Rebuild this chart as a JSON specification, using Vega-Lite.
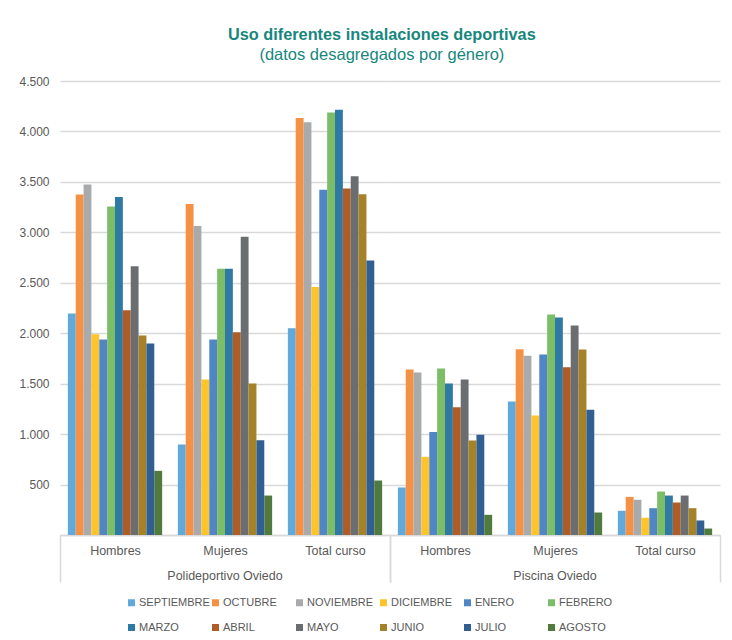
{
  "$schema": "https://vega.github.io/schema/vega-lite/v6.json",
  "padding": {"left": 18, "top": 27, "right": 10, "bottom": 4},
  "title": {
    "text": "Uso diferentes instalaciones deportivas",
    "subtitle": "(datos desagregados por género)",
    "anchor": "middle",
    "dx": 12,
    "font": "Liberation Sans",
    "fontSize": 16.3,
    "fontWeight": "bold",
    "color": "#17877d",
    "subtitleFont": "Liberation Sans",
    "subtitleFontSize": 16.5,
    "subtitleColor": "#17877d",
    "subtitlePadding": 3,
    "offset": 12
  },
  "data": {
    "values": [
      {"facility": "Polideportivo Oviedo", "cat": "Hombres", "month": "SEPTIEMBRE", "value": 2195},
      {"facility": "Polideportivo Oviedo", "cat": "Hombres", "month": "OCTUBRE", "value": 3374},
      {"facility": "Polideportivo Oviedo", "cat": "Hombres", "month": "NOVIEMBRE", "value": 3473},
      {"facility": "Polideportivo Oviedo", "cat": "Hombres", "month": "DICIEMBRE", "value": 1990},
      {"facility": "Polideportivo Oviedo", "cat": "Hombres", "month": "ENERO", "value": 1937},
      {"facility": "Polideportivo Oviedo", "cat": "Hombres", "month": "FEBRERO", "value": 3255},
      {"facility": "Polideportivo Oviedo", "cat": "Hombres", "month": "MARZO", "value": 3351},
      {"facility": "Polideportivo Oviedo", "cat": "Hombres", "month": "ABRIL", "value": 2228},
      {"facility": "Polideportivo Oviedo", "cat": "Hombres", "month": "MAYO", "value": 2664},
      {"facility": "Polideportivo Oviedo", "cat": "Hombres", "month": "JUNIO", "value": 1977},
      {"facility": "Polideportivo Oviedo", "cat": "Hombres", "month": "JULIO", "value": 1898},
      {"facility": "Polideportivo Oviedo", "cat": "Hombres", "month": "AGOSTO", "value": 636},
      {"facility": "Polideportivo Oviedo", "cat": "Mujeres", "month": "SEPTIEMBRE", "value": 897},
      {"facility": "Polideportivo Oviedo", "cat": "Mujeres", "month": "OCTUBRE", "value": 3282},
      {"facility": "Polideportivo Oviedo", "cat": "Mujeres", "month": "NOVIEMBRE", "value": 3064},
      {"facility": "Polideportivo Oviedo", "cat": "Mujeres", "month": "DICIEMBRE", "value": 1541},
      {"facility": "Polideportivo Oviedo", "cat": "Mujeres", "month": "ENERO", "value": 1937},
      {"facility": "Polideportivo Oviedo", "cat": "Mujeres", "month": "FEBRERO", "value": 2638},
      {"facility": "Polideportivo Oviedo", "cat": "Mujeres", "month": "MARZO", "value": 2638},
      {"facility": "Polideportivo Oviedo", "cat": "Mujeres", "month": "ABRIL", "value": 2010},
      {"facility": "Polideportivo Oviedo", "cat": "Mujeres", "month": "MAYO", "value": 2955},
      {"facility": "Polideportivo Oviedo", "cat": "Mujeres", "month": "JUNIO", "value": 1501},
      {"facility": "Polideportivo Oviedo", "cat": "Mujeres", "month": "JULIO", "value": 940},
      {"facility": "Polideportivo Oviedo", "cat": "Mujeres", "month": "AGOSTO", "value": 391},
      {"facility": "Polideportivo Oviedo", "cat": "Total curso", "month": "SEPTIEMBRE", "value": 2050},
      {"facility": "Polideportivo Oviedo", "cat": "Total curso", "month": "OCTUBRE", "value": 4134},
      {"facility": "Polideportivo Oviedo", "cat": "Total curso", "month": "NOVIEMBRE", "value": 4091},
      {"facility": "Polideportivo Oviedo", "cat": "Total curso", "month": "DICIEMBRE", "value": 2459},
      {"facility": "Polideportivo Oviedo", "cat": "Total curso", "month": "ENERO", "value": 3421},
      {"facility": "Polideportivo Oviedo", "cat": "Total curso", "month": "FEBRERO", "value": 4187},
      {"facility": "Polideportivo Oviedo", "cat": "Total curso", "month": "MARZO", "value": 4214},
      {"facility": "Polideportivo Oviedo", "cat": "Total curso", "month": "ABRIL", "value": 3434},
      {"facility": "Polideportivo Oviedo", "cat": "Total curso", "month": "MAYO", "value": 3556},
      {"facility": "Polideportivo Oviedo", "cat": "Total curso", "month": "JUNIO", "value": 3377},
      {"facility": "Polideportivo Oviedo", "cat": "Total curso", "month": "JULIO", "value": 2720},
      {"facility": "Polideportivo Oviedo", "cat": "Total curso", "month": "AGOSTO", "value": 540},
      {"facility": "Piscina Oviedo", "cat": "Hombres", "month": "SEPTIEMBRE", "value": 471},
      {"facility": "Piscina Oviedo", "cat": "Hombres", "month": "OCTUBRE", "value": 1640},
      {"facility": "Piscina Oviedo", "cat": "Hombres", "month": "NOVIEMBRE", "value": 1610},
      {"facility": "Piscina Oviedo", "cat": "Hombres", "month": "DICIEMBRE", "value": 775},
      {"facility": "Piscina Oviedo", "cat": "Hombres", "month": "ENERO", "value": 1022},
      {"facility": "Piscina Oviedo", "cat": "Hombres", "month": "FEBRERO", "value": 1650},
      {"facility": "Piscina Oviedo", "cat": "Hombres", "month": "MARZO", "value": 1501},
      {"facility": "Piscina Oviedo", "cat": "Hombres", "month": "ABRIL", "value": 1267},
      {"facility": "Piscina Oviedo", "cat": "Hombres", "month": "MAYO", "value": 1541},
      {"facility": "Piscina Oviedo", "cat": "Hombres", "month": "JUNIO", "value": 936},
      {"facility": "Piscina Oviedo", "cat": "Hombres", "month": "JULIO", "value": 993},
      {"facility": "Piscina Oviedo", "cat": "Hombres", "month": "AGOSTO", "value": 200},
      {"facility": "Piscina Oviedo", "cat": "Mujeres", "month": "SEPTIEMBRE", "value": 1323},
      {"facility": "Piscina Oviedo", "cat": "Mujeres", "month": "OCTUBRE", "value": 1840},
      {"facility": "Piscina Oviedo", "cat": "Mujeres", "month": "NOVIEMBRE", "value": 1777},
      {"facility": "Piscina Oviedo", "cat": "Mujeres", "month": "DICIEMBRE", "value": 1184},
      {"facility": "Piscina Oviedo", "cat": "Mujeres", "month": "ENERO", "value": 1789},
      {"facility": "Piscina Oviedo", "cat": "Mujeres", "month": "FEBRERO", "value": 2185},
      {"facility": "Piscina Oviedo", "cat": "Mujeres", "month": "MARZO", "value": 2155},
      {"facility": "Piscina Oviedo", "cat": "Mujeres", "month": "ABRIL", "value": 1662},
      {"facility": "Piscina Oviedo", "cat": "Mujeres", "month": "MAYO", "value": 2076},
      {"facility": "Piscina Oviedo", "cat": "Mujeres", "month": "JUNIO", "value": 1838},
      {"facility": "Piscina Oviedo", "cat": "Mujeres", "month": "JULIO", "value": 1242},
      {"facility": "Piscina Oviedo", "cat": "Mujeres", "month": "AGOSTO", "value": 223},
      {"facility": "Piscina Oviedo", "cat": "Total curso", "month": "SEPTIEMBRE", "value": 240},
      {"facility": "Piscina Oviedo", "cat": "Total curso", "month": "OCTUBRE", "value": 378},
      {"facility": "Piscina Oviedo", "cat": "Total curso", "month": "NOVIEMBRE", "value": 349},
      {"facility": "Piscina Oviedo", "cat": "Total curso", "month": "DICIEMBRE", "value": 170},
      {"facility": "Piscina Oviedo", "cat": "Total curso", "month": "ENERO", "value": 266},
      {"facility": "Piscina Oviedo", "cat": "Total curso", "month": "FEBRERO", "value": 431},
      {"facility": "Piscina Oviedo", "cat": "Total curso", "month": "MARZO", "value": 391},
      {"facility": "Piscina Oviedo", "cat": "Total curso", "month": "ABRIL", "value": 322},
      {"facility": "Piscina Oviedo", "cat": "Total curso", "month": "MAYO", "value": 391},
      {"facility": "Piscina Oviedo", "cat": "Total curso", "month": "JUNIO", "value": 266},
      {"facility": "Piscina Oviedo", "cat": "Total curso", "month": "JULIO", "value": 144},
      {"facility": "Piscina Oviedo", "cat": "Total curso", "month": "AGOSTO", "value": 64}
    ]
  },
  "facet": {
    "column": {
      "field": "facility",
      "type": "nominal",
      "sort": ["Polideportivo Oviedo", "Piscina Oviedo"],
      "header": {
        "title": null,
        "labelOrient": "bottom",
        "labelFont": "Liberation Sans",
        "labelFontSize": 12.5,
        "labelColor": "#595959",
        "labelPadding": -13
      }
    }
  },
  "spacing": 0,
  "spec": {
    "width": 330,
    "height": 454,
    "mark": {"type": "bar"},
    "encoding": {
      "x": {
        "field": "cat",
        "type": "nominal",
        "sort": ["Hombres", "Mujeres", "Total curso"],
        "scale": {"paddingInner": 0, "paddingOuter": 0},
        "axis": {
          "title": null,
          "labelAngle": 0,
          "labelFont": "Liberation Sans",
          "labelFontSize": 12.5,
          "labelColor": "#595959",
          "tickBand": "extent",
          "tickSize": 47,
          "tickColor": "#d9d9d9",
          "tickWidth": 1.5,
          "tickOpacity": {"condition": {"test": "(datum.value !== 'Hombres' && datum.value !== 'Mujeres') || datum.extra", "value": 1}, "value": 0},
          "labelPadding": -38,
          "domainColor": "#d9d9d9",
          "domainWidth": 1.5
        }
      },
      "xOffset": {
        "field": "month",
        "type": "nominal",
        "sort": ["SEPTIEMBRE", "OCTUBRE", "NOVIEMBRE", "DICIEMBRE", "ENERO", "FEBRERO", "MARZO", "ABRIL", "MAYO", "JUNIO", "JULIO", "AGOSTO"],
        "scale": {"paddingInner": 0, "paddingOuter": 1.06}
      },
      "y": {
        "field": "value",
        "type": "quantitative",
        "scale": {"domain": [0, 4500]},
        "axis": {
          "title": null,
          "values": [0, 500, 1000, 1500, 2000, 2500, 3000, 3500, 4000, 4500],
          "labelExpr": "datum.value === 0 ? '' : replace(format(datum.value, ','), ',', '.')",
          "labelFont": "Liberation Sans",
          "labelFontSize": 12,
          "labelColor": "#595959",
          "labelPadding": 11,
          "ticks": false,
          "domain": false,
          "grid": true,
          "gridColor": "#d9d9d9",
          "gridWidth": 1.5
        }
      },
      "color": {
        "field": "month",
        "type": "nominal",
        "scale": {
          "domain": ["SEPTIEMBRE", "OCTUBRE", "NOVIEMBRE", "DICIEMBRE", "ENERO", "FEBRERO", "MARZO", "ABRIL", "MAYO", "JUNIO", "JULIO", "AGOSTO"],
          "range": ["#62a9db", "#f59145", "#a8aaab", "#fdc42b", "#5186c6", "#7cbd68", "#2f79a5", "#ad5d25", "#6b6e70", "#a58228", "#325f91", "#507a3e"]
        },
        "legend": {
          "title": null,
          "orient": "bottom",
          "direction": "horizontal",
          "columns": 6,
          "gridAlign": "all",
          "symbolType": "square",
          "symbolSize": 49,
          "symbolStrokeWidth": 0,
          "labelFont": "Liberation Sans",
          "labelFontSize": 11,
          "labelColor": "#595959",
          "labelOffset": 2,
          "columnPadding": 0,
          "rowPadding": 13,
          "offset": 14
        }
      }
    }
  },
  "config": {
    "font": "Liberation Sans",
    "view": {"stroke": null},
    "legend": {"layout": {"bottom": {"anchor": "middle"}}}
  }
}
